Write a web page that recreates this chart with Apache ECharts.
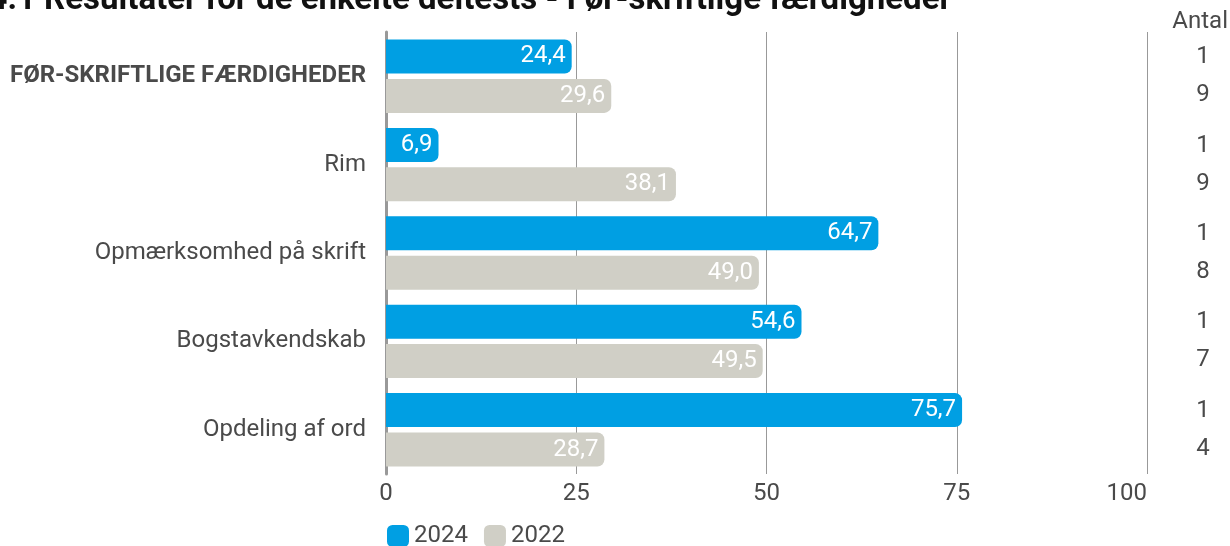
<!DOCTYPE html>
<html><head><meta charset="utf-8">
<script src="https://cdn.jsdelivr.net/npm/echarts@6/dist/echarts.min.js"></script>
<style>html,body{margin:0;padding:0;background:#fff}#c{width:1230px;height:546px}</style>
</head><body><div id="c"></div>
<script>
const categories = ['FØR-SKRIFTLIGE FÆRDIGHEDER', 'Rim', 'Opmærksomhed på skrift', 'Bogstavkendskab', 'Opdeling af ord'];
const values2024 = [24.4, 6.9, 64.7, 54.6, 75.7];
const values2022 = [29.6, 38.1, 49.0, 49.5, 28.7];
const antal = ['19', '19', '18', '17', '14'];
const xTicks = [0, 25, 50, 75, 100];
const titleText = 'Figur 4.1 Resultater for de enkelte deltests - Før-skriftlige færdigheder';

const FONT = 'Roboto, "Noto Sans", sans-serif';
const TXT = '#4a4a4a';
const FS = 24;
const fmt = v => v.toFixed(1).replace('.', ',');

const chart = echarts.init(document.getElementById('c'));
chart.setOption({
  animation: false,
  textStyle: { fontFamily: FONT },
  title: [
    { text: titleText, left: -101, top: -21, textStyle: { fontSize: 33, fontWeight: 'bold', color: '#111', fontFamily: FONT } },
    { text: 'Antal', right: -3, top: 5, textStyle: { fontSize: FS, fontWeight: 'normal', color: TXT, fontFamily: FONT } }
  ],
  legend: {
    left: 382, top: 519, itemWidth: 22, itemHeight: 22, itemGap: 16, icon: 'roundRect',
    textStyle: { fontSize: FS, color: TXT, fontFamily: FONT },
    data: ['2024', '2022']
  },
  grid: { left: 386, right: 83, top: 32, bottom: 72, containLabel: false },
  xAxis: {
    type: 'value', min: 0, max: 100, interval: 25,
    axisLine: { show: false }, axisTick: { show: false },
    splitLine: { lineStyle: { color: '#999', width: 1 } },
    axisLabel: { fontSize: FS, color: TXT, margin: 8, fontFamily: FONT, alignMaxLabel: 'right',
      formatter: v => xTicks.includes(v) ? String(v) : '' }
  },
  yAxis: [
    {
      type: 'category', data: categories, inverse: true,
      axisLine: { show: true, lineStyle: { color: '#999', width: 3 } },
      axisTick: { show: false },
      axisLabel: {
        fontSize: FS, color: TXT, margin: 20, fontFamily: FONT,
        formatter: (v, i) => i === 0 ? '{b|' + v + '}' : v,
        rich: { b: { fontSize: FS, fontWeight: 'bold', color: TXT, fontFamily: FONT } }
      }
    },
    {
      type: 'category', data: antal, inverse: true, position: 'right',
      axisLine: { show: false }, axisTick: { show: false },
      axisLabel: {
        fontSize: FS, color: TXT, margin: 56, lineHeight: 38, fontFamily: FONT, align: 'center',
        formatter: v => v.split('').join('\n')
      }
    }
  ],
  series: [
    {
      name: '2024', type: 'bar', data: values2024, barWidth: 34, barGap: '16%',
      itemStyle: { color: '#009FE3', borderRadius: [0, 7, 7, 0] },
      label: { show: true, position: 'insideRight', color: '#fff', fontSize: FS, fontFamily: FONT, distance: 6,
        formatter: p => fmt(p.value) }
    },
    {
      name: '2022', type: 'bar', data: values2022, barWidth: 34,
      itemStyle: { color: '#D0CFC6', borderRadius: [0, 7, 7, 0] },
      label: { show: true, position: 'insideRight', color: '#fff', fontSize: FS, fontFamily: FONT, distance: 6,
        formatter: p => fmt(p.value) }
    }
  ]
});
</script></body></html>
